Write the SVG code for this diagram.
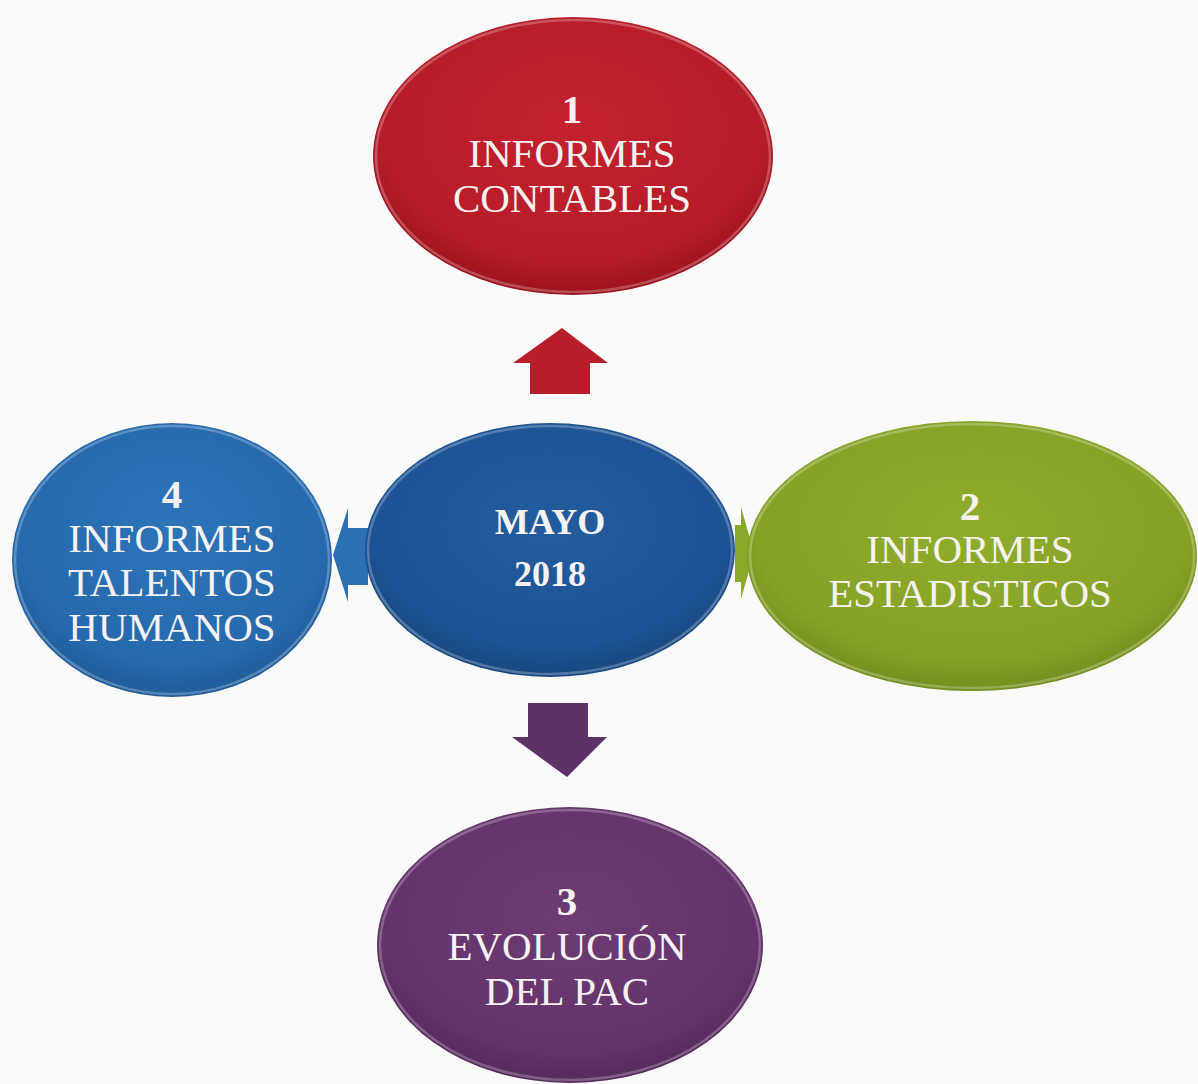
<svg xmlns="http://www.w3.org/2000/svg" width="1198" height="1084" viewBox="0 0 1198 1084">
<defs>
<radialGradient id="gRed" cx="50%" cy="40%" r="60%"><stop offset="0" stop-color="#c4212e"/><stop offset="0.8" stop-color="#b51c28"/><stop offset="1" stop-color="#9c121d"/></radialGradient>
<radialGradient id="gCen" cx="50%" cy="40%" r="60%"><stop offset="0" stop-color="#235c9e"/><stop offset="0.8" stop-color="#1d5294"/><stop offset="1" stop-color="#17477f"/></radialGradient>
<radialGradient id="gLeft" cx="50%" cy="40%" r="60%"><stop offset="0" stop-color="#2d74b8"/><stop offset="0.8" stop-color="#2669ad"/><stop offset="1" stop-color="#1f5b98"/></radialGradient>
<radialGradient id="gGreen" cx="50%" cy="40%" r="60%"><stop offset="0" stop-color="#8fac2c"/><stop offset="0.8" stop-color="#85a226"/><stop offset="1" stop-color="#728d1c"/></radialGradient>
<radialGradient id="gPurp" cx="50%" cy="40%" r="60%"><stop offset="0" stop-color="#6d3b74"/><stop offset="0.8" stop-color="#64336b"/><stop offset="1" stop-color="#552a5c"/></radialGradient>
</defs>
<style>
.t{font-family:"Liberation Serif","Times New Roman",serif;fill:#f6f2f2;text-anchor:middle;font-size:41px}
.b{font-weight:bold}
.rim{fill:none;stroke:#ffffff;stroke-opacity:0.25;stroke-width:2.5}
</style>
<rect width="1198" height="1084" fill="#fafafa"/>
<g id="connectors">
<polygon points="562,328 608,363 590,363 590,394 530,394 530,363 513,363" fill="#b81e2a"/>
<polygon points="528,703 588,703 588,737 607,737 567,777 512,737 528,737" fill="#5e3268"/>
<polygon points="333,555 348,508 348,528 368,528 368,585 348,585 348,602" fill="#2a70b2"/>
<polygon points="735,525 741,525 741,507 754,553 741,599 741,582 735,582" fill="#8aa82a"/>
</g>
<g id="n1">
<ellipse cx="573" cy="156" rx="200" ry="139" fill="url(#gRed)"/>
<ellipse cx="573" cy="156" rx="197" ry="136" class="rim"/>
<text class="t b" x="572" y="123">1</text>
<text class="t" x="572" y="167">INFORMES</text>
<text class="t" x="572" y="212">CONTABLES</text>
</g>
<g id="center">
<ellipse cx="550" cy="550" rx="185" ry="127" fill="url(#gCen)"/>
<ellipse cx="550" cy="550" rx="182" ry="124" class="rim"/>
<text class="t b" x="550" y="534" style="font-size:36px">MAYO</text>
<text class="t b" x="550" y="586" style="font-size:36px">2018</text>
</g>
<g id="n2">
<ellipse cx="972" cy="556" rx="225" ry="135" fill="url(#gGreen)"/>
<ellipse cx="972" cy="556" rx="222" ry="132" class="rim"/>
<text class="t b" x="970" y="520">2</text>
<text class="t" x="970" y="563">INFORMES</text>
<text class="t" x="970" y="607">ESTADISTICOS</text>
</g>
<g id="n4">
<ellipse cx="172" cy="560" rx="160" ry="137" fill="url(#gLeft)"/>
<ellipse cx="172" cy="560" rx="157" ry="134" class="rim"/>
<text class="t b" x="172" y="508">4</text>
<text class="t" x="172" y="552">INFORMES</text>
<text class="t" x="172" y="596">TALENTOS</text>
<text class="t" x="172" y="641">HUMANOS</text>
</g>
<g id="n3">
<ellipse cx="570" cy="945" rx="193" ry="138" fill="url(#gPurp)"/>
<ellipse cx="570" cy="945" rx="190" ry="135" class="rim"/>
<text class="t b" x="567" y="915">3</text>
<text class="t" x="567" y="960">EVOLUCIÓN</text>
<text class="t" x="567" y="1005">DEL PAC</text>
</g>
</svg>
